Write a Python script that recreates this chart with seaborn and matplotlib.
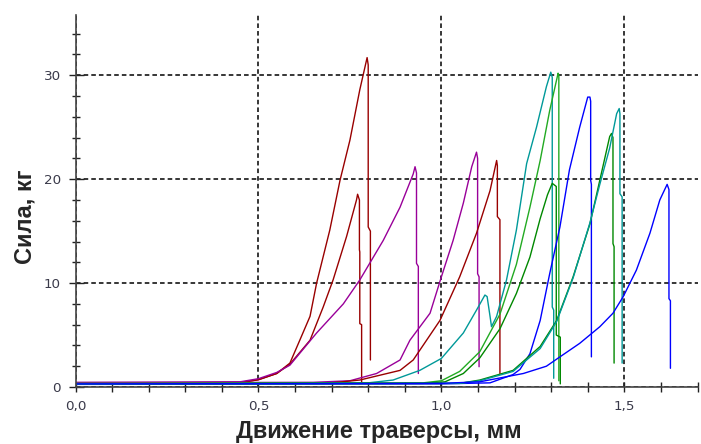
import matplotlib
matplotlib.use('Agg')
import pandas as pd
import matplotlib.pyplot as plt
import seaborn as sns
from matplotlib.ticker import MultipleLocator, FuncFormatter

# displacement (mm) / force (kg), one pair per specimen
red1_x = [0.0, 0.45, 0.50, 0.55, 0.586, 0.613, 0.641, 0.659, 0.695, 0.723, 0.75, 0.777, 0.797, 0.800, 0.800, 0.806, 0.806]
red1_y = [0.35, 0.45, 0.7, 1.3, 2.3, 4.5, 6.8, 10.0, 15.1, 19.9, 23.75, 28.6, 31.7, 31.0, 15.4, 15.0, 2.6]

red2_x = [0.0, 0.45, 0.50, 0.55, 0.586, 0.641, 0.677, 0.704, 0.741, 0.768, 0.771, 0.776, 0.776, 0.777, 0.777, 0.782, 0.782]
red2_y = [0.3, 0.4, 0.7, 1.3, 2.2, 4.5, 7.7, 10.3, 14.5, 18.0, 18.55, 18.0, 13.2, 13.0, 6.1, 6.0, 0.4]

purple1_x = [0.0, 0.45, 0.50, 0.55, 0.586, 0.659, 0.732, 0.777, 0.841, 0.887, 0.923, 0.928, 0.932, 0.932, 0.937, 0.937]
purple1_y = [0.45, 0.5, 0.8, 1.4, 2.1, 5.2, 8.0, 10.3, 14.1, 17.3, 20.5, 21.2, 20.6, 11.9, 11.6, 1.3]

purple2_x = [0.0, 0.65, 0.75, 0.823, 0.887, 0.914, 0.969, 1.0, 1.032, 1.06, 1.083, 1.096, 1.099, 1.099, 1.103, 1.103]
purple2_y = [0.4, 0.45, 0.6, 1.3, 2.6, 4.5, 7.1, 10.6, 14.1, 17.7, 21.2, 22.6, 22.0, 10.9, 10.6, 1.95]

red3_x = [0.0, 0.70, 0.777, 0.887, 0.923, 0.996, 1.05, 1.096, 1.133, 1.151, 1.153, 1.153, 1.16, 1.16]
red3_y = [0.3, 0.4, 0.67, 1.6, 2.6, 6.4, 10.6, 14.8, 18.9, 21.8, 21.3, 16.4, 16.1, 1.3]

teal1_x = [0.0, 0.80, 0.868, 0.941, 1.0, 1.06, 1.096, 1.119, 1.125, 1.133, 1.137, 1.151, 1.178, 1.205, 1.233, 1.26, 1.287, 1.299, 1.303, 1.303, 1.307, 1.307]
teal1_y = [0.3, 0.4, 0.67, 1.6, 2.75, 5.2, 7.4, 8.85, 8.7, 6.8, 5.8, 6.8, 10.3, 15.1, 21.5, 25.0, 28.9, 30.3, 29.8, 7.7, 7.4, 0.84]

green1_x = [0.0, 0.95, 1.0, 1.05, 1.105, 1.16, 1.205, 1.242, 1.27, 1.296, 1.319, 1.321, 1.321]
green1_y = [0.35, 0.4, 0.6, 1.5, 3.4, 7.0, 11.8, 17.3, 21.8, 26.6, 30.2, 30.0, 0.6]

green2_x = [0.0, 0.95, 1.01, 1.06, 1.105, 1.16, 1.205, 1.242, 1.27, 1.29, 1.303, 1.314, 1.314, 1.325, 1.325]
green2_y = [0.3, 0.35, 0.5, 1.3, 2.8, 5.6, 9.0, 12.5, 16.2, 18.5, 19.6, 19.3, 5.0, 4.8, 0.3]

blue1_x = [0.0, 1.0, 1.133, 1.196, 1.215, 1.242, 1.27, 1.296, 1.324, 1.35, 1.378, 1.40, 1.406, 1.408, 1.408, 1.41, 1.41]
blue1_y = [0.25, 0.3, 0.4, 1.2, 1.7, 3.2, 6.4, 10.9, 15.4, 20.9, 25.0, 27.9, 27.9, 27.5, 19.9, 19.5, 2.9]

green3_x = [0.0, 1.05, 1.105, 1.196, 1.27, 1.315, 1.36, 1.406, 1.433, 1.46, 1.465, 1.469, 1.469, 1.472, 1.472]
green3_y = [0.3, 0.35, 0.67, 1.6, 3.9, 6.4, 10.6, 15.7, 19.9, 24.1, 24.4, 24.0, 13.8, 13.5, 2.3]

teal2_x = [0.0, 1.05, 1.105, 1.196, 1.27, 1.315, 1.36, 1.406, 1.433, 1.46, 1.479, 1.486, 1.488, 1.488, 1.494, 1.494]
teal2_y = [0.3, 0.35, 0.6, 1.5, 3.7, 6.3, 10.5, 15.8, 19.5, 23.0, 26.3, 26.8, 26.3, 18.6, 18.3, 2.3]

blue2_x = [0.0, 1.0, 1.105, 1.224, 1.287, 1.324, 1.378, 1.433, 1.469, 1.497, 1.533, 1.57, 1.597, 1.617, 1.622, 1.622, 1.626, 1.626]
blue2_y = [0.3, 0.35, 0.5, 1.3, 2.0, 2.9, 4.2, 5.8, 7.1, 8.7, 11.25, 14.8, 18.0, 19.5, 19.0, 8.5, 8.3, 1.8]

curves = [
    ("red1", red1_x, red1_y, "#990000"),
    ("red2", red2_x, red2_y, "#990000"),
    ("purple1", purple1_x, purple1_y, "#990099"),
    ("purple2", purple2_x, purple2_y, "#990099"),
    ("red3", red3_x, red3_y, "#990000"),
    ("teal1", teal1_x, teal1_y, "#009999"),
    ("green1", green1_x, green1_y, "#22aa22"),
    ("green2", green2_x, green2_y, "#008800"),
    ("blue1", blue1_x, blue1_y, "#0000ff"),
    ("green3", green3_x, green3_y, "#008800"),
    ("teal2", teal2_x, teal2_y, "#009999"),
    ("blue2", blue2_x, blue2_y, "#0000ff"),
]

df = pd.concat([pd.DataFrame({"x": x, "y": y, "curve": name}) for name, x, y, _ in curves],
               ignore_index=True)
palette = {name: c for name, _, _, c in curves}

sns.set_style("white")
plt.rcParams['font.family'] = ['DejaVu Sans']

fig = plt.figure(figsize=(7.01, 4.44), dpi=100)
ax = fig.add_axes([75.5 / 701, 1 - 387 / 444, 622 / 701, 372 / 444])

sns.lineplot(data=df, x="x", y="y", hue="curve", palette=palette, estimator=None,
             sort=False, legend=False, lw=1.0, ax=ax)

ax.set_xlim(0, 1.7)
ax.set_ylim(0, 35.8)

ax.xaxis.set_major_locator(MultipleLocator(0.5))
ax.xaxis.set_minor_locator(MultipleLocator(0.1))
ax.yaxis.set_major_locator(MultipleLocator(10))
ax.yaxis.set_minor_locator(MultipleLocator(2))
ax.xaxis.set_major_formatter(FuncFormatter(lambda v, p: f"{v:.1f}".replace(".", ",")))
ax.yaxis.set_major_formatter(FuncFormatter(lambda v, p: f"{v:.0f}"))

ax.grid(True, which="major", color="black", linestyle=(0, (3, 2)), lw=1.1)

for s in ["top", "right"]:
    ax.spines[s].set_visible(False)
for s in ["left", "bottom"]:
    ax.spines[s].set_color("#444444")
    ax.spines[s].set_linewidth(1.2)

ax.tick_params(axis="x", which="both", bottom=True, direction="inout", length=7.2, width=1,
               color="#222222", labelsize=9.7, labelcolor="#3a3a4a", pad=6)
ax.tick_params(axis="y", which="major", left=True, direction="inout", length=10.8, width=1,
               color="#222222", labelsize=9.7, labelcolor="#3a3a4a", pad=5)
ax.tick_params(axis="y", which="minor", left=True, direction="inout", length=5.8, width=1,
               color="#222222")

ax.set_xlabel("Движение траверсы, мм", fontsize=17, fontweight="bold", family="Liberation Sans")
ax.set_ylabel("Сила, кг", fontsize=17, fontweight="bold", family="Liberation Sans")
ax.xaxis.set_label_coords(0.488, -0.0895)
ax.yaxis.set_label_coords(-0.062, 0.457)

fig.savefig("out.png", dpi=100)
